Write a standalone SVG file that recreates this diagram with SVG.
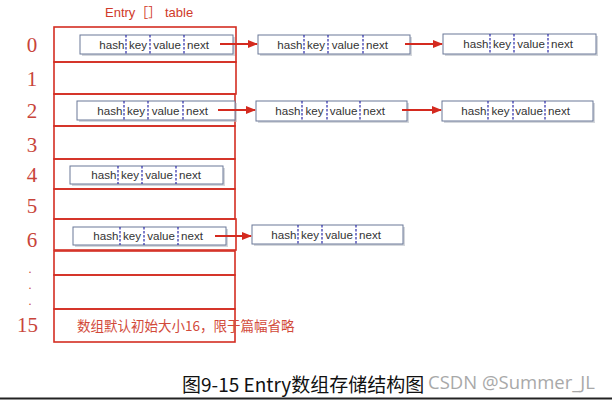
<svg xmlns="http://www.w3.org/2000/svg" width="612" height="400" viewBox="0 0 612 400">
<style>
.row{fill:none;stroke:#d42d22;stroke-width:1.6}
.idx{font-family:"Liberation Serif","DejaVu Serif",serif;font-size:21px;fill:#c8443a}
.dot{font-family:"Liberation Serif","DejaVu Serif",serif;font-size:12px;fill:#c8443a;text-anchor:middle}
.box{fill:#fff;stroke:#6a7898;stroke-width:1}
.sh{fill:#b8bcc4;opacity:0.6}
.dv{stroke:#2a2aa8;stroke-width:1.2;stroke-dasharray:2.5,1.5}
.f{font-family:"Liberation Sans","Arial",sans-serif;font-size:11.6px;fill:#333}
.e{text-anchor:end}.m{text-anchor:middle}
.arr{stroke:#d42a1f;stroke-width:2;fill:none;marker-end:url(#ah)}
.red{font-family:"Liberation Sans",Arial,"Noto Sans CJK SC",sans-serif;fill:#d03a2a}
.cn{font-family:"Noto Sans CJK SC",sans-serif;fill:#d24a3a}
</style>
<defs>
<marker id="ah" markerWidth="10" markerHeight="8" refX="9" refY="4" orient="auto" markerUnits="userSpaceOnUse">
<path d="M0,0 L10,4 L0,8 z" fill="#d42a1f"/>
</marker>
</defs>
<rect width="612" height="400" fill="#fff"/>
<text class="red" x="105" y="17" font-size="13">Entry［］ table</text>

<g id="table">
<rect class="row" x="54" y="27" width="182" height="35"/>
<rect class="row" x="54" y="62" width="182" height="32"/>
<rect class="row" x="54" y="94" width="181" height="32"/>
<rect class="row" x="54" y="126" width="181" height="33"/>
<rect class="row" x="54" y="159" width="181" height="30"/>
<rect class="row" x="54" y="189" width="181" height="30"/>
<rect class="row" x="54" y="219" width="182" height="31"/>
<rect class="row" x="54" y="251" width="181" height="24"/>
<rect class="row" x="54" y="275" width="181" height="34"/>
<rect class="row" x="54" y="309" width="181" height="33"/>
</g>

<g id="labels">
<text class="idx m" x="32" y="52">0</text>
<text class="idx m" x="32" y="86">1</text>
<text class="idx m" x="32" y="118">2</text>
<text class="idx m" x="32" y="152">3</text>
<text class="idx m" x="32" y="182">4</text>
<text class="idx m" x="32" y="213">5</text>
<text class="idx m" x="32" y="247">6</text>
<text class="dot" x="30" y="273">.</text>
<text class="dot" x="30" y="289">.</text>
<text class="dot" x="30" y="305">.</text>
<text class="idx" x="17" y="332">15</text>
</g>

<g id="e0" transform="translate(80,35)">
<rect class="sh" x="2" y="2" width="153" height="19"/>
<rect class="box" width="153" height="19"/>
<line class="dv" x1="46" y1="0" x2="46" y2="19"/><line class="dv" x1="70" y1="0" x2="70" y2="19"/><line class="dv" x1="104" y1="0" x2="104" y2="19"/>
<text class="f e" x="44.5" y="13.5">hash</text><text class="f m" x="58" y="13.5">key</text><text class="f m" x="87" y="13.5">value</text><text class="f" x="107" y="13.5">next</text>
</g>
<g id="e0b" transform="translate(258,35)">
<rect class="sh" x="2" y="2" width="152" height="19"/>
<rect class="box" width="152" height="19"/>
<line class="dv" x1="46" y1="0" x2="46" y2="19"/><line class="dv" x1="70" y1="0" x2="70" y2="19"/><line class="dv" x1="105" y1="0" x2="105" y2="19"/>
<text class="f e" x="44.5" y="13.5">hash</text><text class="f m" x="58" y="13.5">key</text><text class="f m" x="87.5" y="13.5">value</text><text class="f" x="108" y="13.5">next</text>
</g>
<g id="e0c" transform="translate(443,34)">
<rect class="sh" x="2" y="2" width="153" height="20"/>
<rect class="box" width="153" height="20"/>
<line class="dv" x1="47" y1="0" x2="47" y2="20"/><line class="dv" x1="71" y1="0" x2="71" y2="20"/><line class="dv" x1="105" y1="0" x2="105" y2="20"/>
<text class="f e" x="45.5" y="14">hash</text><text class="f m" x="59" y="14">key</text><text class="f m" x="88" y="14">value</text><text class="f" x="108" y="14">next</text>
</g>

<g id="e2" transform="translate(77,101)">
<rect class="sh" x="2" y="2" width="158" height="19"/>
<rect class="box" width="158" height="19"/>
<line class="dv" x1="47" y1="0" x2="47" y2="19"/><line class="dv" x1="71" y1="0" x2="71" y2="19"/><line class="dv" x1="106" y1="0" x2="106" y2="19"/>
<text class="f e" x="45.5" y="13.5">hash</text><text class="f m" x="59" y="13.5">key</text><text class="f m" x="88.5" y="13.5">value</text><text class="f" x="109" y="13.5">next</text>
</g>
<g id="e2b" transform="translate(256,101)">
<rect class="sh" x="2" y="2" width="151" height="20"/>
<rect class="box" width="151" height="20"/>
<line class="dv" x1="46" y1="0" x2="46" y2="20"/><line class="dv" x1="71" y1="0" x2="71" y2="20"/><line class="dv" x1="104" y1="0" x2="104" y2="20"/>
<text class="f e" x="44.5" y="14">hash</text><text class="f m" x="58.5" y="14">key</text><text class="f m" x="87.5" y="14">value</text><text class="f" x="107" y="14">next</text>
</g>
<g id="e2c" transform="translate(442,101)">
<rect class="sh" x="2" y="2" width="151" height="20"/>
<rect class="box" width="151" height="20"/>
<line class="dv" x1="46" y1="0" x2="46" y2="20"/><line class="dv" x1="71" y1="0" x2="71" y2="20"/><line class="dv" x1="103" y1="0" x2="103" y2="20"/>
<text class="f e" x="44.5" y="14">hash</text><text class="f m" x="58.5" y="14">key</text><text class="f m" x="87" y="14">value</text><text class="f" x="106" y="14">next</text>
</g>

<g id="e4" transform="translate(70,166)">
<rect class="sh" x="2" y="2" width="153" height="18"/>
<rect class="box" width="153" height="18"/>
<line class="dv" x1="48" y1="0" x2="48" y2="18"/><line class="dv" x1="72" y1="0" x2="72" y2="18"/><line class="dv" x1="106" y1="0" x2="106" y2="18"/>
<text class="f e" x="46.5" y="13">hash</text><text class="f m" x="60" y="13">key</text><text class="f m" x="89" y="13">value</text><text class="f" x="109" y="13">next</text>
</g>

<g id="e6" transform="translate(73,227)">
<rect class="sh" x="2" y="2" width="153" height="18"/>
<rect class="box" width="153" height="18"/>
<line class="dv" x1="47" y1="0" x2="47" y2="18"/><line class="dv" x1="71" y1="0" x2="71" y2="18"/><line class="dv" x1="105" y1="0" x2="105" y2="18"/>
<text class="f e" x="45.5" y="13">hash</text><text class="f m" x="59" y="13">key</text><text class="f m" x="88" y="13">value</text><text class="f" x="108" y="13">next</text>
</g>
<g id="e6b" transform="translate(252,225)">
<rect class="sh" x="2" y="2" width="151" height="19"/>
<rect class="box" width="151" height="19"/>
<line class="dv" x1="46" y1="0" x2="46" y2="19"/><line class="dv" x1="70" y1="0" x2="70" y2="19"/><line class="dv" x1="104" y1="0" x2="104" y2="19"/>
<text class="f e" x="44.5" y="13.5">hash</text><text class="f m" x="58" y="13.5">key</text><text class="f m" x="87" y="13.5">value</text><text class="f" x="107" y="13.5">next</text>
</g>

<g id="connectors">
<line class="arr" x1="220" y1="44" x2="257" y2="44"/>
<line class="arr" x1="405" y1="44" x2="442" y2="44"/>
<line class="arr" x1="218" y1="110" x2="255" y2="110"/>
<line class="arr" x1="402" y1="110" x2="441" y2="110"/>
<line class="arr" x1="215" y1="236" x2="251" y2="236"/>
</g>

<text class="cn" x="77" y="331" font-size="13.5">数组默认初始大小16，限于篇幅省略</text>
<text x="182" y="392" font-family="'Noto Sans CJK SC','Open Sans',sans-serif" font-size="19" fill="#111">图9-15 Entry数组存储结构图</text>
<text x="428" y="389" font-family="'Open Sans','Liberation Sans',sans-serif" font-size="18.5" fill="#9a9a9a" opacity="0.85">CSDN @Summer_JL</text>
<line x1="0" y1="398.5" x2="612" y2="398.5" stroke="#222" stroke-width="2"/>
</svg>
